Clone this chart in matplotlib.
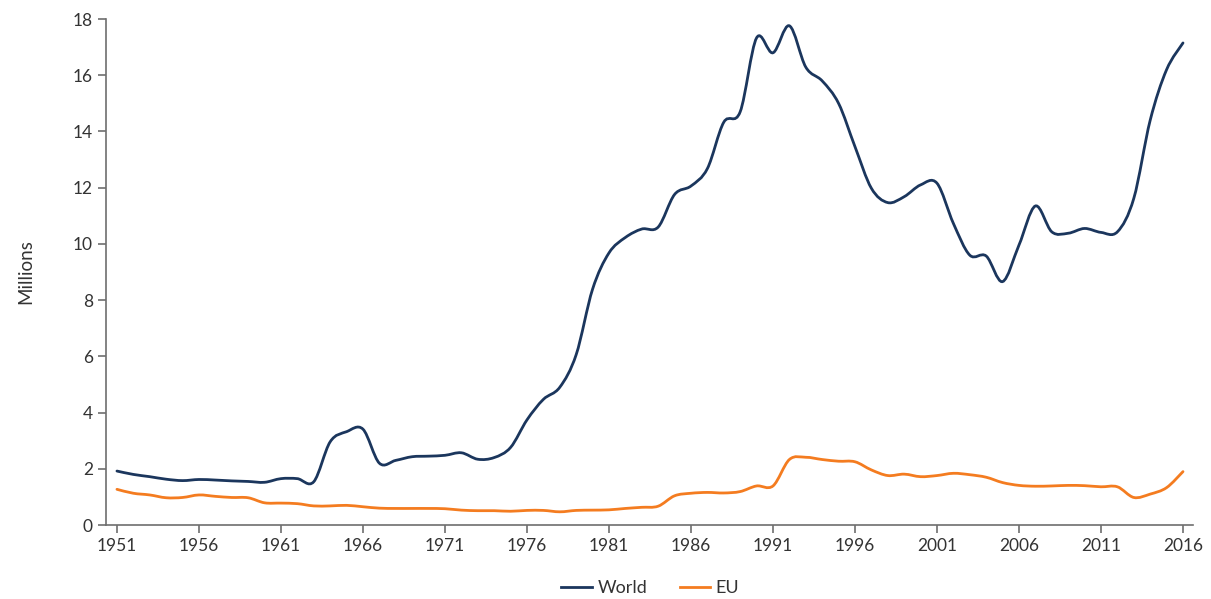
import numpy as np
import matplotlib.pyplot as plt
from matplotlib.path import Path
from matplotlib.patches import PathPatch
from matplotlib.lines import Line2D

plt.rcParams['font.family'] = ['Lato', 'DejaVu Sans']

years = list(range(1951, 2017))

world = [1.92, 1.80, 1.72, 1.63, 1.58, 1.62, 1.60, 1.57, 1.55, 1.52,
         1.65, 1.65, 1.54, 2.96, 3.32, 3.41, 2.20, 2.30, 2.43, 2.45,
         2.48, 2.57, 2.34, 2.40, 2.76, 3.74, 4.47, 4.90, 6.06, 8.39,
         9.68, 10.23, 10.53, 10.60, 11.76, 12.06, 12.68, 14.33, 14.70, 17.33,
         16.80, 17.76, 16.29, 15.80, 15.00, 13.46, 11.98, 11.47, 11.68, 12.10,
         12.16, 10.73, 9.60, 9.57, 8.66, 9.96, 11.35, 10.43, 10.38, 10.55,
         10.41, 10.43, 11.62, 14.40, 16.20, 17.15]

eu = [1.27, 1.13, 1.07, 0.97, 0.98, 1.07, 1.02, 0.98, 0.97, 0.79,
      0.78, 0.76, 0.68, 0.68, 0.70, 0.65, 0.60, 0.59, 0.59, 0.59,
      0.58, 0.53, 0.51, 0.51, 0.49, 0.52, 0.52, 0.47, 0.52, 0.53,
      0.54, 0.59, 0.63, 0.67, 1.04, 1.13, 1.16, 1.14, 1.19, 1.39,
      1.39, 2.33, 2.41, 2.33, 2.27, 2.25, 1.96, 1.76, 1.81, 1.72,
      1.76, 1.84, 1.79, 1.70, 1.51, 1.41, 1.38, 1.39, 1.41, 1.40,
      1.36, 1.36, 0.98, 1.10, 1.33, 1.90]

series = [("World", world, "#1b365d"), ("EU", eu, "#f47c20")]


def spline_path(x, y):
    # catmull-rom style bezier through the data points
    x = np.asarray(x, float)
    y = np.asarray(y, float)
    verts = [(x[0], y[0])]
    codes = [Path.MOVETO]
    n = len(x)
    for i in range(n - 1):
        x0, y0 = (x[i - 1], y[i - 1]) if i > 0 else (x[i], y[i])
        x3, y3 = (x[i + 2], y[i + 2]) if i + 2 < n else (x[i + 1], y[i + 1])
        c1 = (x[i] + (x[i + 1] - x0) / 6, y[i] + (y[i + 1] - y0) / 6)
        c2 = (x[i + 1] - (x3 - x[i]) / 6, y[i + 1] - (y3 - y[i]) / 6)
        verts += [c1, c2, (x[i + 1], y[i + 1])]
        codes += [Path.CURVE4] * 3
    return Path(verts, codes)


fig = plt.figure(figsize=(12.11, 5.99), dpi=100)
ax = fig.add_axes([0.0875, 0.1235, 0.8975, 0.8447])

for name, vals, col in series:
    ax.add_patch(PathPatch(spline_path(years, vals), facecolor="none",
                           edgecolor=col, lw=2.0, capstyle="round"))

ax.set_xlim(1950.33, 2016.6)
ax.set_ylim(0, 18)
ax.set_xticks(range(1951, 2017, 5))
ax.set_yticks(range(0, 19, 2))

for s in ["top", "right"]:
    ax.spines[s].set_visible(False)
for s in ["left", "bottom"]:
    ax.spines[s].set_color("#6e6e6e")
    ax.spines[s].set_linewidth(1.2)
ax.tick_params(colors="#6e6e6e", labelcolor="#333333", labelsize=12.5,
               length=6, width=1.2)
ax.set_ylabel("Millions", fontsize=13.5, color="#333333", labelpad=28)

handles = [Line2D([], [], color=c, lw=2.0) for _, _, c in series]
fig.legend(handles, [n for n, _, _ in series], loc="center",
           bbox_to_anchor=(0.537, 0.018), ncol=2, frameon=False,
           fontsize=13, handlelength=1.7, handletextpad=0.3,
           columnspacing=1.8, labelcolor="#333333")

fig.savefig("out.png", dpi=100)
